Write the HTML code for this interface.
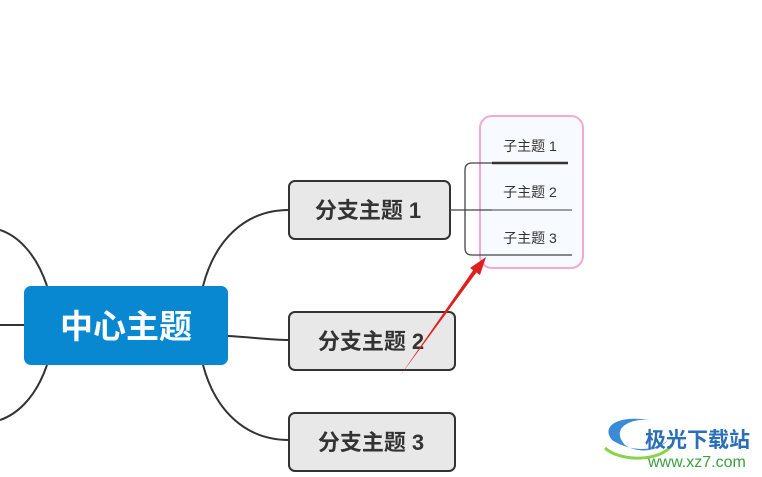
<!DOCTYPE html>
<html><head><meta charset="utf-8"><style>
html,body{margin:0;padding:0;background:#fff;width:762px;height:477px;overflow:hidden}
text{font-family:"Liberation Sans","Noto Sans CJK SC",sans-serif}
</style></head><body>
<svg width="762" height="477" viewBox="0 0 762 477" xmlns="http://www.w3.org/2000/svg">
<g fill="none" stroke="#333" stroke-width="2">
<path d="M47,286 C35,250 15,235 0,230"/>
<path d="M47,365 C35,400 15,415 0,420"/>
<path d="M0,325 L24,325"/>
<path d="M203,286 C215,240 245,210 289,210"/>
<path d="M228,336 C250,337 270,340 289,340"/>
<path d="M203,365 C215,410 245,440 289,440"/>
</g>
<rect x="24" y="286" width="204" height="79" rx="7" fill="#0788d0"/>
<text x="126" y="338" text-anchor="middle" font-size="33" font-weight="bold" fill="#fff">中心主题</text>
<g fill="#e8e8e8" stroke="#333" stroke-width="2">
<rect x="289" y="181" width="161" height="58" rx="6"/>
<rect x="289" y="312" width="166" height="58" rx="6"/>
<rect x="289" y="413" width="166" height="58" rx="6"/>
</g>
<g font-size="22" font-weight="bold" fill="#333" text-anchor="middle">
<text x="368" y="218">分支主题 1</text>
<text x="371" y="349">分支主题 2</text>
<text x="371" y="450">分支主题 3</text>
</g>
<rect x="480" y="116" width="103" height="152" rx="12" fill="#f7fbff" stroke="#f2a9d8" stroke-width="2"/>
<g fill="none" stroke="#444" stroke-width="1.3">
<path d="M450,210 L492,210"/>
<path d="M492,163 L472,163 Q465,163 465,170 L465,248 Q465,255 472,255 L492,255"/>
</g>
<line x1="492" y1="163" x2="568" y2="163" stroke="#333" stroke-width="2.5"/>
<line x1="492" y1="210" x2="572" y2="210" stroke="#666" stroke-width="1.3"/>
<line x1="492" y1="255" x2="572" y2="255" stroke="#444" stroke-width="1.3"/>
<g font-size="14" fill="#333" text-anchor="middle">
<text x="530" y="151">子主题 1</text>
<text x="530" y="197">子主题 2</text>
<text x="530" y="243">子主题 3</text>
</g>
<polygon points="400,376 476,266 479,269" fill="#e02020"/>
<polygon points="486,257 470,268 480,275" fill="#e02020"/>
<g>
<path d="M612,440 C600,425 620,415 650,420 C630,418 610,428 625,445 C640,455 660,450 668,440 C655,452 630,452 612,440Z" fill="#3a8ad8"/>
<path d="M605,448 C620,462 660,462 672,445" fill="none" stroke="#8bd14a" stroke-width="3"/>
<text x="645" y="447" font-size="21" font-weight="bold" fill="#2a6fb8">极光下载站</text>
<text x="648" y="467" font-size="16" fill="#3aa040">www.xz7.com</text>
</g>
</svg>
</body></html>
